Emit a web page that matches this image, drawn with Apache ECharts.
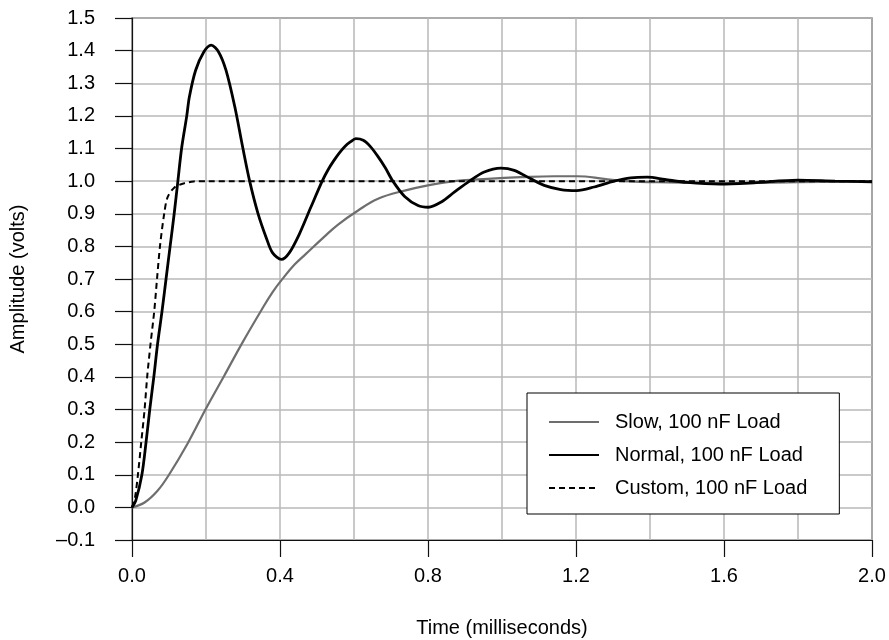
<!DOCTYPE html>
<html>
<head>
<meta charset="utf-8">
<script src="https://cdn.jsdelivr.net/npm/echarts@6/dist/echarts.min.js"></script>
<style>html,body{margin:0;padding:0;background:#fff;}#c{width:889px;height:640px;}</style>
</head>
<body>
<div id="c"></div>
<script>
const seriesNames = ['Slow, 100 nF Load', 'Normal, 100 nF Load', 'Custom, 100 nF Load'];

const slowTime = [0, 0.034, 0.069, 0.1, 0.15, 0.2, 0.25, 0.3, 0.35, 0.38, 0.41, 0.44, 0.47, 0.52, 0.557, 0.611, 0.665, 0.737, 0.80, 0.871, 0.961, 1.051, 1.141, 1.204, 1.276, 1.33, 1.45, 1.6, 1.8, 2.0];
const slowVal  = [0, 0.015, 0.051, 0.10, 0.195, 0.303, 0.405, 0.508, 0.605, 0.66, 0.705, 0.745, 0.777, 0.83, 0.867, 0.91, 0.946, 0.971, 0.987, 1.0, 1.007, 1.012, 1.015, 1.015, 1.007, 1.0, 0.996, 0.994, 0.997, 1.0];

const normalTime = [0, 0.01, 0.0267, 0.038, 0.048, 0.059, 0.069, 0.081, 0.092, 0.103, 0.114, 0.124, 0.134, 0.148, 0.155, 0.172, 0.194, 0.214, 0.234, 0.254, 0.278, 0.30, 0.318, 0.34, 0.363, 0.38, 0.404, 0.425, 0.452, 0.483, 0.514, 0.53, 0.545, 0.56, 0.576, 0.59, 0.605, 0.625, 0.645, 0.665, 0.685, 0.705, 0.737, 0.773, 0.801, 0.836, 0.871, 0.912, 0.952, 0.997, 1.033, 1.078, 1.114, 1.159, 1.202, 1.249, 1.303, 1.348, 1.393, 1.44, 1.5, 1.59, 1.68, 1.8, 1.9, 2.0];
const normalVal  = [0, 0.02, 0.1, 0.2, 0.3, 0.4, 0.5, 0.6, 0.7, 0.8, 0.9, 1.0, 1.1, 1.2, 1.258, 1.34, 1.396, 1.417, 1.396, 1.34, 1.227, 1.099, 1.0, 0.903, 0.826, 0.78, 0.76, 0.78, 0.837, 0.919, 1.0, 1.035, 1.062, 1.086, 1.107, 1.12, 1.13, 1.125, 1.105, 1.075, 1.04, 1.0, 0.953, 0.925, 0.92, 0.936, 0.966, 1.0, 1.028, 1.04, 1.033, 1.007, 0.987, 0.974, 0.971, 0.982, 1.0, 1.01, 1.012, 1.005, 0.996, 0.991, 0.995, 1.003, 1.0, 0.998];

const customTime = [0, 0.008, 0.016, 0.025, 0.034, 0.041, 0.05, 0.06, 0.0676, 0.0756, 0.087, 0.096, 0.114, 0.14, 0.167, 0.2, 2.0];
const customVal  = [0, 0.03, 0.1, 0.2, 0.3, 0.4, 0.5, 0.6, 0.7, 0.8, 0.9, 0.95, 0.98, 0.993, 0.999, 1.0, 1.0];

function pairs(ts, vs) { return ts.map((t, i) => [t, vs[i]]); }

const FONT = 'Liberation Sans, Arial, sans-serif';
const gridLine = { color: '#b8b8b8', width: 1.5 };

const chart = echarts.init(document.getElementById('c'), null, { renderer: 'canvas' });
chart.setOption({
  animation: false,
  backgroundColor: '#fff',
  textStyle: { fontFamily: FONT },
  grid: { left: 132, right: 17, top: 18, bottom: 100, containLabel: false, outerBoundsMode: 'none',
    show: true, borderColor: '#111', borderWidth: 1.2, backgroundColor: 'transparent' },
  legend: {
    orient: 'vertical',
    left: 527, top: 393,
    padding: [19, 32, 16, 21],
    itemWidth: 50, itemHeight: 14, itemGap: 13,
    backgroundColor: '#fff',
    borderColor: '#000', borderWidth: 1,
    itemStyle: { opacity: 0 },
    textStyle: { fontSize: 20, color: '#000', fontFamily: FONT, padding: [0, 0, 0, 11] },
    data: seriesNames
  },
  xAxis: {
    type: 'value', min: 0, max: 2, interval: 0.4,
    name: 'Time (milliseconds)', nameLocation: 'middle', nameGap: 78,
    nameTextStyle: { fontSize: 20, color: '#000', fontFamily: FONT },
    axisLine: { show: true, onZero: false, lineStyle: { color: '#111', width: 1.2 } },
    axisTick: { show: true, inside: false, length: 17, lineStyle: { color: '#111', width: 1.2 } },
    axisLabel: { fontSize: 20, color: '#000', margin: 26, fontFamily: FONT, formatter: v => v.toFixed(1) },
    splitLine: { show: true, lineStyle: gridLine },
    minorTick: { show: false, splitNumber: 2 },
    minorSplitLine: { show: true, lineStyle: gridLine }
  },
  yAxis: {
    type: 'value', min: -0.1, max: 1.5, interval: 0.1,
    name: 'Amplitude (volts)', nameLocation: 'middle', nameGap: 104,
    nameTextStyle: { fontSize: 20, color: '#000', fontFamily: FONT },
    axisLine: { show: true, onZero: false, lineStyle: { color: '#111', width: 1.2 } },
    axisTick: { show: true, inside: false, length: 17, lineStyle: { color: '#111', width: 1.2 } },
    axisLabel: { fontSize: 20, color: '#000', margin: 37, fontFamily: FONT,
      formatter: v => { const s = (Math.round(v * 10) / 10).toFixed(1); return s.replace('-', '\u2013'); } },
    splitLine: { show: true, lineStyle: gridLine }
  },
  series: [
    { name: seriesNames[0], type: 'line', data: pairs(slowTime, slowVal), showSymbol: false, symbol: 'none', smooth: 0.4,
      lineStyle: { color: '#6e6e6e', width: 2.2 }, itemStyle: { color: '#6e6e6e' } },
    { name: seriesNames[1], type: 'line', data: pairs(normalTime, normalVal), showSymbol: false, symbol: 'none', smooth: 0.3,
      lineStyle: { color: '#000', width: 2.8 }, itemStyle: { color: '#000' } },
    { name: seriesNames[2], type: 'line', data: pairs(customTime, customVal), showSymbol: false, symbol: 'none', smooth: 0.3,
      lineStyle: { color: '#000', width: 2, type: [6, 4] }, itemStyle: { color: '#000' } }
  ]
});
</script>
</body>
</html>
